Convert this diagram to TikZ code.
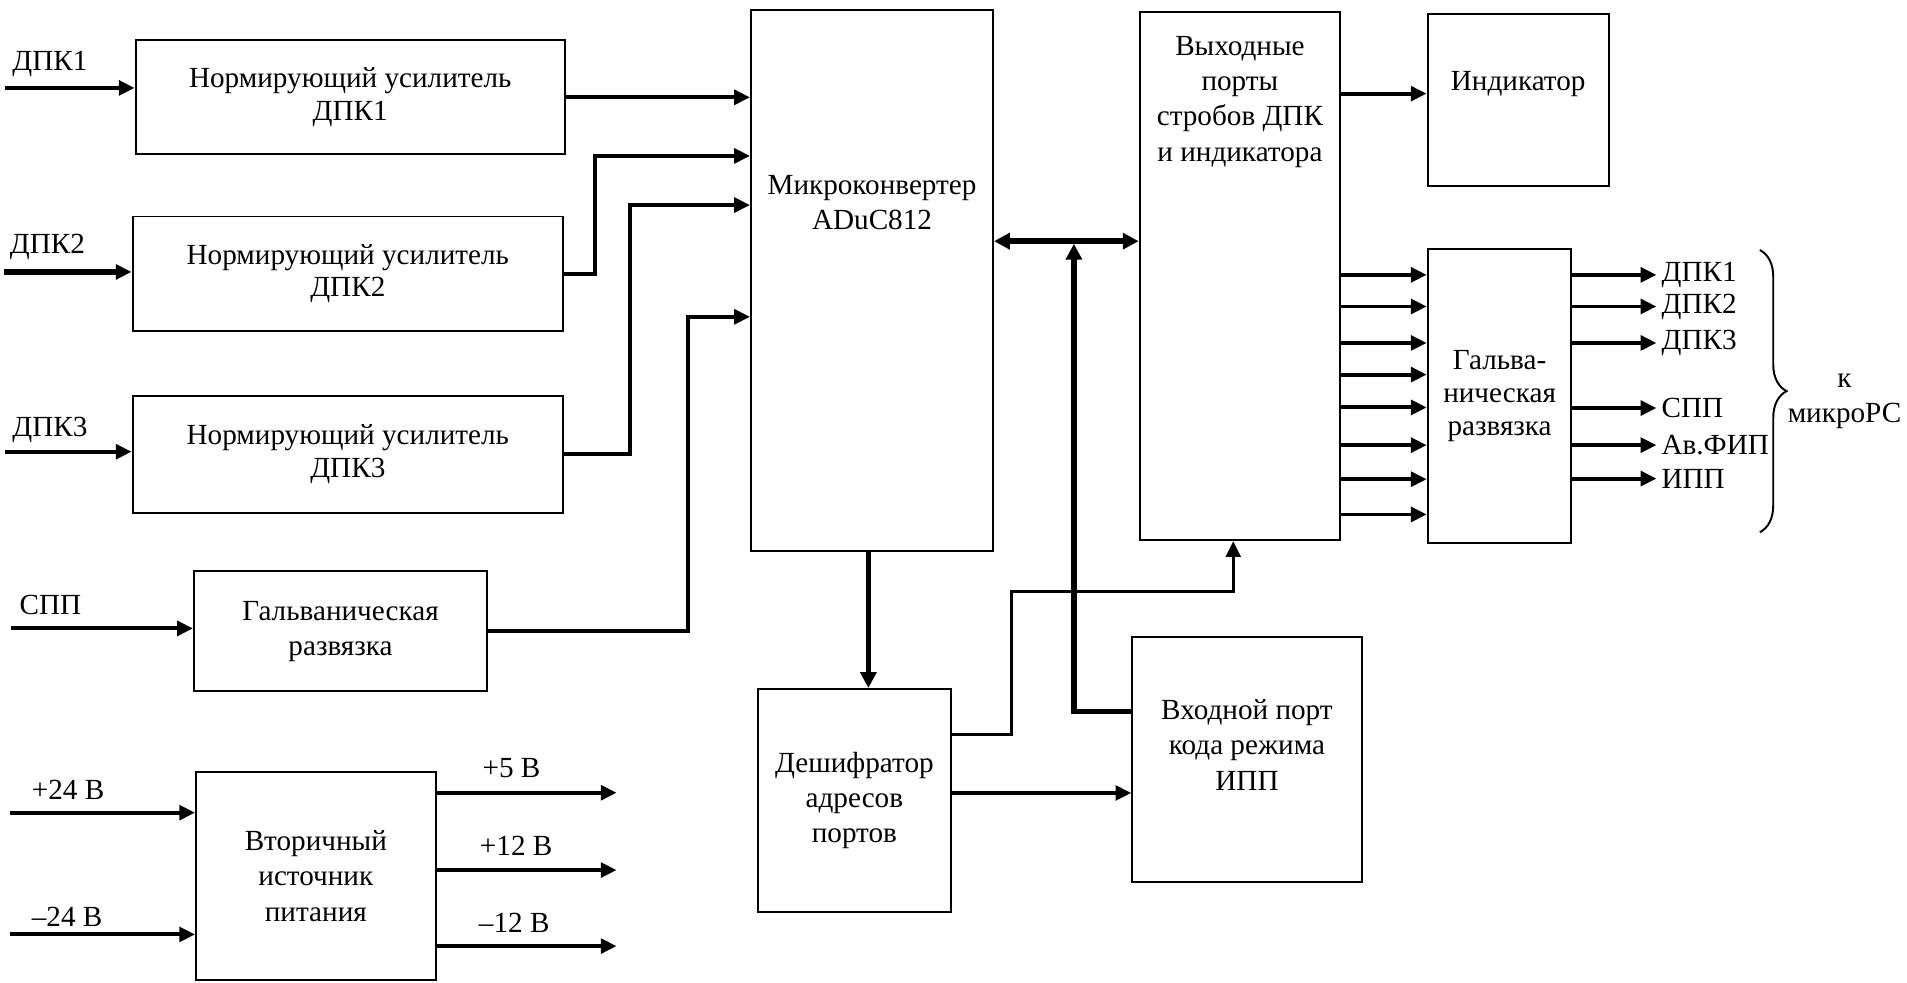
\documentclass[tikz,border=0pt]{standalone}
\usepackage{fontspec}
\setmainfont{Liberation Serif}
\usetikzlibrary{arrows.meta}
\usetikzlibrary{positioning}
\usetikzlibrary{decorations.pathreplacing}
\tikzset {
  % rectangular unit of the scheme
  block/.style = {
    draw = black,
    line width = 1.6pt,
    rectangle,
    inner sep = 0,
    align = center,
    font = \fontsize{24}{29}\selectfont
  },
  % text placed inside a block
  txt/.style = {
    inner sep = 0,
    align = center,
    font = \fontsize{24}{29}\selectfont
  },
  % signal name beside a line
  lbl/.style = {
    inner sep = 0,
    font = \fontsize{24}{29}\selectfont
  },
  wire/.style = {
    line width = 3.2pt
  },
  % path style with one arrow at the end
  arr/.style = {
    wire,
    -{Triangle[length=13pt,width=12pt]}
  },
  % data bus
  busarr/.style = {
    line width = 4.4pt,
    -{Triangle[length=13pt,width=13pt]}
  },
  busdbl/.style = {
    line width = 4.4pt,
    {Triangle[length=13pt,width=13pt]}-{Triangle[length=13pt,width=13pt]}
  },
  curly/.style = {
    line width = 1.6pt,
    decorate,
    decoration = {brace, amplitude=22pt}
  }
}

\begin{document}
\begin{tikzpicture}[x=1pt, y=-1pt]
    \path[use as bounding box, fill=white] (0,0) rectangle (1568,808);

    \node[block, minimum width=353pt, minimum height=94pt, font=\fontsize{24}{27}\selectfont] (norm1) at (288,80) {Нормирующий усилитель\\ДПК1};
    \node[block, minimum width=354pt, minimum height=94pt, font=\fontsize{24}{27}\selectfont] (norm2) at (286,225) {Нормирующий усилитель\\ДПК2};
    \node[block, minimum width=354pt, minimum height=96pt, font=\fontsize{24}{27}\selectfont] (norm3) at (286,373.5) {Нормирующий усилитель\\ДПК3};
    \node[block, minimum width=241pt, minimum height=99pt] (galvL) at (280,519) {Гальваническая\\развязка};
    \node[block, minimum width=197pt, minimum height=171.5pt] (power) at (259.7,720.3) {Вторичный\\источник\\питания};

    \node[block, minimum width=199pt, minimum height=445pt] (mk) at (717,230.5) {};
    \node[txt] (mk-text) at ([yshift=63.8pt]mk.center) {Микроконвертер\\ADuC812};
    \node[block, minimum width=159pt, minimum height=183pt] (dec) at (702.5,658) {Дешифратор\\адресов\\портов};
    \node[block, minimum width=188.6pt, minimum height=201pt] (inp) at (1025.3,624.5) {};
    \node[txt] (inp-text) at ([yshift=12pt]inp.center) {Входной порт\\кода режима\\ИПП};
    \node[block, minimum width=165pt, minimum height=434.3pt] (outp) at (1019.5,226.9) {};
    \node[txt] (outp-text) at ([yshift=143.3pt]outp.center) {Выходные\\порты\\стробов ДПК\\и индикатора};

    \node[block, minimum width=149pt, minimum height=141pt] (ind) at (1248.3,82.3) {};
    \node[txt] (ind-text) at ([yshift=13.3pt]ind.center) {Индикатор};
    \node[block, minimum width=118.2pt, minimum height=241.8pt, font=\fontsize{24}{27}\selectfont] (galvR) at (1233,325.5) {Гальва-\\ническая\\развязка};

    \coordinate (in1) at (4,72.3);
    \coordinate (in2) at (3,223.6);
    \coordinate (in3) at (4,371.4);
    \coordinate (in-spp) at (9,516.7);
    \coordinate (in-p24) at (8,668.2);
    \coordinate (in-m24) at (8,768.3);
    \node[lbl] (in1-lbl) [above right=9pt and 6pt of in1] {ДПК1};
    \node[lbl] (in2-lbl) [above right=10pt and 5pt of in2] {ДПК2};
    \node[lbl] (in3-lbl) [above right=7pt and 6pt of in3] {ДПК3};
    \node[lbl] (spp-lbl) [above right=11pt and 7pt of in-spp] {СПП};
    \node[lbl] (p24-lbl) [above right=10.6pt and 18pt of in-p24] {+24 В};
    \node[lbl] (m24-lbl) [above right=6.6pt and 18pt of in-m24] {–24 В};

    \draw[arr] (in1) -- (in1 -| norm1.west);
    \draw[arr, line width=5pt] (in2) -- (in2 -| norm2.west);
    \draw[arr] (in3) -- (in3 -| norm3.west);
    \draw[arr] (in-spp) -- (in-spp -| galvL.west);
    \draw[arr] (in-p24) -- (in-p24 -| power.west);
    \draw[arr] (in-m24) -- (in-m24 -| power.west);

    \coordinate (v5) at (507,651.8);
    \coordinate (v12) at (507,715.4);
    \coordinate (v-12) at (507,777.9);
    \draw[arr] (v5 -| power.east) -- (v5);
    \draw[arr] (v12 -| power.east) -- (v12);
    \draw[arr] (v-12 -| power.east) -- (v-12);
    \node[lbl] (v5-lbl) [above left=12pt and 62.5pt of v5] {+5 В};
    \node[lbl] (v12-lbl) [above left=11.4pt and 52.6pt of v12] {+12 В};
    \node[lbl] (v-12-lbl) [above left=10.9pt and 55pt of v-12] {–12 В};

    \coordinate (n2-up) at (489.5,128.2);
    \coordinate (n3-up) at (518,168.6);
    \coordinate (gl-up) at (566,260.5);
    \draw[arr] (norm1.east) -- (norm1.east -| mk.west);
    \draw[arr] (norm2.east)
    -| (n2-up)
    -- (n2-up -| mk.west);
    \draw[arr] (norm3.east)
    -| (n3-up)
    -- (n3-up -| mk.west);
    \draw[arr] (galvL.east)
    -| (gl-up)
    -- (gl-up -| mk.west);

    \coordinate (bus-j) at (883,198.3);
    \draw[busdbl] (bus-j -| mk.east) -- (bus-j -| outp.west);
    \draw[busarr] ([yshift=39.5pt]inp.west)
    -| ([yshift=-2.2pt]bus-j);
    \draw[busarr] ([xshift=-3pt]mk.south) -- ([xshift=-3pt]mk.south |- dec.north);

    \coordinate (dq) at (831.5,603.8);
    \coordinate (dq-top) at (1014,486.5);
    \draw[arr, line width=2.6pt] (dq -| dec.east)
    -- (dq)
    |- (dq-top)
    -- (dq-top |- outp.south);
    \draw[arr] ([yshift=6pt]dec.east) -- ([yshift=6pt]dec.east -| inp.west);

    \draw[arr] ([yshift=5.3pt]ind.west -| outp.east) -- ([yshift=5.3pt]ind.west);
    \foreach \y in {226,252,282,308,335,366,394,423}
      \draw[arr] (outp.east |- 0,\y) -- (galvR.west |- 0,\y);

    \foreach \y/\sig [count=\i] in {226/ДПК1, 252/ДПК2, 282/ДПК3, 335.5/СПП, 366/Ав.ФИП, 393.5/ИПП} {
      \node[lbl, inner xsep=4pt, anchor=west] (sig\i) at (1362,\y) {\sig};
      \draw[arr] (galvR.east |- sig\i.west) -- (sig\i.west);
    }

    \coordinate (br-top) at (1447,205.6);
    \coordinate (br-bot) at (1447,437.6);
    \draw[curly] (br-top) -- (br-bot);
    \node[txt] (to-pc) at (1516.6,330) {к\\микроРС};
  \end{tikzpicture}
\end{document}
